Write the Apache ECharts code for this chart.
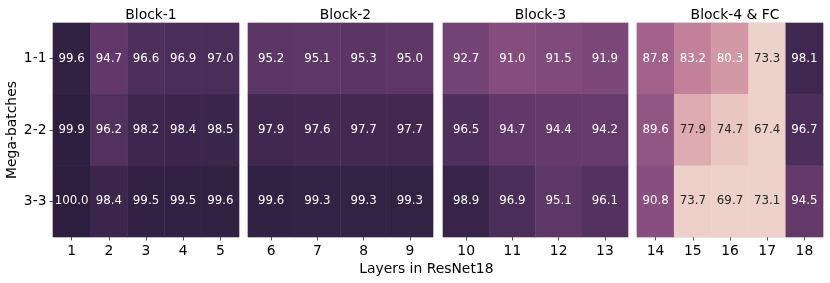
<!DOCTYPE html>
<html>
<head>
<meta charset="utf-8">
<script src="https://cdn.jsdelivr.net/npm/echarts@6/dist/echarts.min.js"></script>
<style>html,body{margin:0;padding:0;background:#fff}#c{width:830px;height:283px}</style>
</head>
<body>
<div id="c"></div>
<script>
// ---- data ----
const rows = ['1-1', '2-2', '3-3'];
const blockTitles = ['Block-1', 'Block-2', 'Block-3', 'Block-4 & FC'];
const block1Layers = ['1', '2', '3', '4', '5'];
const block2Layers = ['6', '7', '8', '9'];
const block3Layers = ['10', '11', '12', '13'];
const block4Layers = ['14', '15', '16', '17', '18'];
const block1Values = [[99.6, 94.7, 96.6, 96.9, 97.0], [99.9, 96.2, 98.2, 98.4, 98.5], [100.0, 98.4, 99.5, 99.5, 99.6]];
const block2Values = [[95.2, 95.1, 95.3, 95.0], [97.9, 97.6, 97.7, 97.7], [99.6, 99.3, 99.3, 99.3]];
const block3Values = [[92.7, 91.0, 91.5, 91.9], [96.5, 94.7, 94.4, 94.2], [98.9, 96.9, 95.1, 96.1]];
const block4Values = [[87.8, 83.2, 80.3, 73.3, 98.1], [89.6, 77.9, 74.7, 67.4, 96.7], [90.8, 73.7, 69.7, 73.1, 94.5]];
const xAxisTitle = 'Layers in ResNet18';
const yAxisTitle = 'Mega-batches';

// ---- colour scale (seaborn cubehelix, light -> dark) ----
const VMIN = 73.5, VMAX = 100, SCALE_LO = 60;
function cubehelix(x) {
  const start = 0, rot = 0.4, hue = 0.8, gamma = 1;
  const xg = Math.pow(x, gamma);
  const a = hue * xg * (1 - xg) / 2;
  const phi = 2 * Math.PI * (start / 3 + rot * x);
  const c = Math.cos(phi), s = Math.sin(phi);
  const r = xg + a * (-0.14861 * c + 1.78277 * s);
  const g = xg + a * (-0.29227 * c - 0.90649 * s);
  const b = xg + a * (1.97294 * c);
  return [r, g, b].map(v => Math.max(0, Math.min(1, v)));
}
function colorFor(v) {
  let t = (v - VMIN) / (VMAX - VMIN);
  t = Math.max(0, Math.min(1, t));
  return cubehelix(0.85 - 0.7 * t);
}
function toHex(rgb) {
  return '#' + rgb.map(v => Math.round(v * 255).toString(16).padStart(2, '0')).join('');
}
function textColor(v) {
  const lin = colorFor(v).map(c => c <= 0.03928 ? c / 12.92 : Math.pow((c + 0.055) / 1.055, 2.4));
  const L = 0.2126 * lin[0] + 0.7152 * lin[1] + 0.0722 * lin[2];
  return L > 0.408 ? '#262626' : '#ffffff';
}
const stops = [];
const NS = 161;
for (let i = 0; i < NS; i++) {
  const v = SCALE_LO + (VMAX - SCALE_LO) * i / (NS - 1);
  stops.push(toHex(colorFor(v)));
}

const blocks = [
  { layers: block1Layers, values: block1Values },
  { layers: block2Layers, values: block2Values },
  { layers: block3Layers, values: block3Values },
  { layers: block4Layers, values: block4Values }
];
const gridPos = [
  { left: 53, width: 186 },
  { left: 248, width: 185 },
  { left: 443, width: 185 },
  { left: 637, width: 186 }
];
const TOP = 23, HEIGHT = 214;
const FONT = 'DejaVu Sans';

const grids = [], xAxes = [], yAxes = [], series = [], titles = [];
blocks.forEach((b, i) => {
  grids.push({ left: gridPos[i].left, top: TOP, width: gridPos[i].width, height: HEIGHT,
    show: true, borderColor: 'rgba(190,180,200,0.6)', borderWidth: 1, backgroundColor: 'transparent', containLabel: false });
  xAxes.push({
    type: 'category', gridIndex: i, data: b.layers, position: 'bottom',
    axisLine: { show: false },
    axisTick: { show: true, alignWithLabel: true, length: 3.5, lineStyle: { color: '#262626', width: 0.8 } },
    axisLabel: { show: true, color: '#000', fontFamily: FONT, fontSize: 13.9, margin: 7 },
    splitLine: { show: false }
  });
  yAxes.push({
    type: 'category', gridIndex: i, data: rows, inverse: true,
    axisLine: { show: false },
    axisTick: { show: i === 0, alignWithLabel: true, length: 3.5, lineStyle: { color: '#262626', width: 0.8 } },
    axisLabel: { show: i === 0, color: '#000', fontFamily: FONT, fontSize: 13.9, margin: 6.5 },
    splitLine: { show: false }
  });
  const data = [];
  b.values.forEach((row, r) => row.forEach((v, c) => {
    data.push({ value: [c, r, v], label: { color: textColor(v) } });
  }));
  series.push({
    type: 'heatmap', xAxisIndex: i, yAxisIndex: i, data: data,
    itemStyle: { borderColor: 'rgba(255,255,255,0.06)', borderWidth: 0.5 },
    label: { show: true, fontFamily: FONT, fontSize: 11.8, formatter: p => p.value[2].toFixed(1) },
    emphasis: { disabled: true }
  });
  titles.push({
    text: blockTitles[i], left: gridPos[i].left + gridPos[i].width / 2, top: 3, textAlign: 'center',
    textStyle: { fontFamily: FONT, fontSize: 13.9, fontWeight: 'normal', color: '#000' }
  });
});

const chart = echarts.init(document.getElementById('c'), null, { renderer: 'canvas' });
chart.setOption({
  animation: false,
  backgroundColor: '#fff',
  title: titles,
  grid: grids,
  xAxis: xAxes,
  yAxis: yAxes,
  visualMap: {
    type: 'continuous', show: false, min: SCALE_LO, max: VMAX, calculable: false,
    seriesIndex: [0, 1, 2, 3], dimension: 2,
    inRange: { color: stops }
  },
  series: series,
  graphic: [
    { type: 'text', left: 426.7 - 67.5, top: 262, style: { text: xAxisTitle, font: '13.9px "DejaVu Sans"', fill: '#000', textAlign: 'left' } },
    { type: 'text', x: 12.5, y: 130, rotation: Math.PI / 2, style: { text: yAxisTitle, font: '13.9px "DejaVu Sans"', fill: '#000', textAlign: 'center', textVerticalAlign: 'middle' } }
  ]
});
</script>
</body>
</html>
